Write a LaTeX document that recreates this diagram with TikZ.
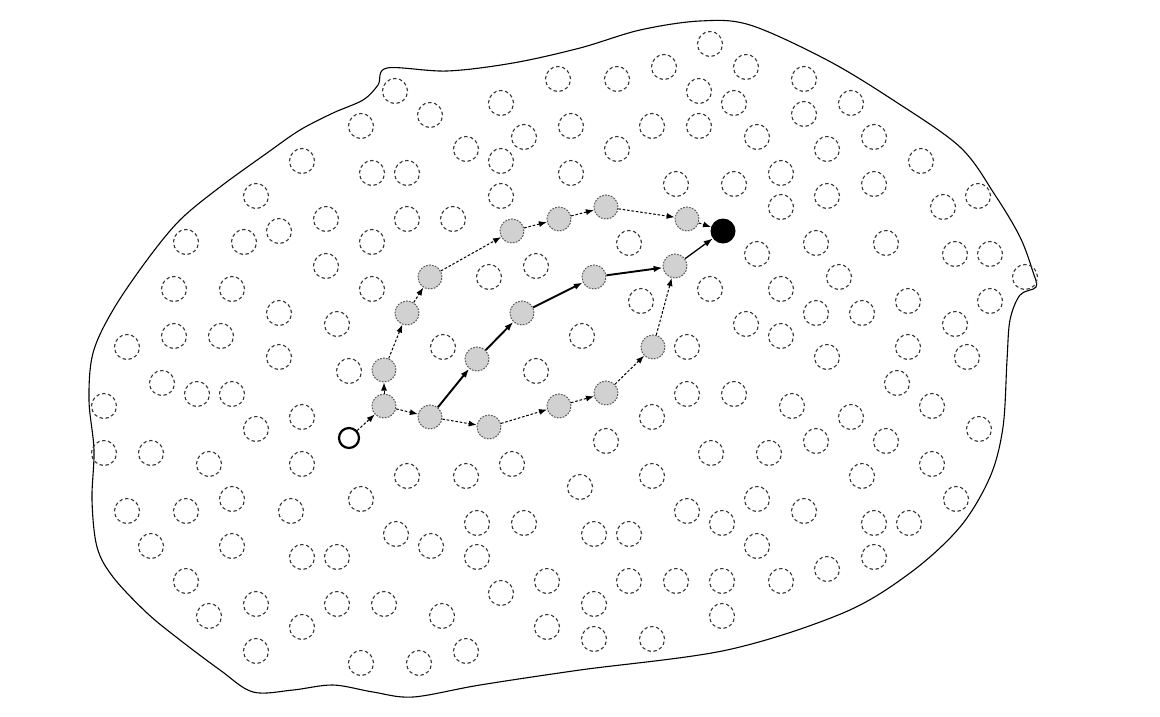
\documentclass[tikz,border=0pt]{standalone}
\usetikzlibrary{arrows.meta}

\begin{document}
\begin{tikzpicture}[x=1pt,y=-1pt,
  site/.style={circle, draw=black!80, line width=1.1pt, dash pattern=on 3.4pt off 2.6pt, minimum size=25pt, inner sep=0pt},
  relay/.style={circle, draw=black!65, fill=black!18, line width=1pt, dash pattern=on 1.7pt off 1.3pt, minimum size=24pt, inner sep=0pt},
  hop/.style={line width=1pt, dash pattern=on 2.6pt off 1.8pt, -{Latex[length=8pt,width=6pt]}},
  route/.style={line width=1.9pt, -{Latex[length=9pt,width=6.5pt]}}]
\useasboundingbox (0,0) rectangle (1160,716);
% region border
\draw [line width=1.1pt] plot [smooth cycle, tension=0.55] coordinates {
  (387,68) (447,71) (513,63) (580,48) (640,30) (700,21) (750,25) (827,60) (893,100)
  (960,147) (995,195) (1020,237) (1033,272) (1036,287) (1020,295) (1010,320) (1007,360)
  (1003,427) (990,477) (960,527) (910,573) (843,613) (727,650) (580,670) (480,685)
  (413,697) (373,692) (333,685) (293,690) (253,692) (220,670) (180,640) (147,613)
  (113,577) (97,547) (92,500) (94,450) (89,400) (93,353) (113,310) (147,260) (180,220)
  (220,187) (267,153) (300,130) (333,113) (363,100) (378,85)};
% idle nodes
\foreach \x/\y [count=\i] in {
  710/44, 664/67, 746/67, 558/79, 617/79, 804/79, 395/91, 699/91, 734/103, 501/103,
  851/103, 804/114, 430/115, 361/126, 571/126, 652/126, 699/126, 524/137, 757/137, 874/137,
  466/149, 617/149, 827/149, 501/161, 302/161, 921/161, 372/173, 407/173, 571/173, 781/173,
  676/184, 734/184, 874/184, 501/196, 256/196, 827/196, 978/196, 781/207, 943/207, 326/219,
  407/219, 453/219, 186/242, 244/242, 279/231, 372/242, 629/243, 757/254, 816/243, 886/243,
  955/254, 990/254, 1025/277, 326/266, 536/266, 489/277, 710/289, 781/289, 839/277, 174/289,
  232/289, 372/289, 279/313, 641/301, 816/313, 862/313, 908/301, 990/301, 127/347, 174/336,
  221/336, 337/324, 443/347, 582/336, 687/347, 746/324, 781/336, 908/347, 955/324, 827/357,
  967/357, 279/357, 349/371, 536/371, 162/383, 197/394, 232/394, 104/406, 302/417, 256/429,
  104/453, 151/453, 209/464, 302/464, 407/476, 466/476, 512/464, 580/487, 361/499, 127/511,
  186/511, 232/499, 291/511, 477/523, 524/523, 396/534, 431/546, 477/557, 151/546, 232/546,
  302/557, 337/557, 186/581, 501/593, 547/581, 209/616, 256/604, 337/604, 384/604, 442/616,
  302/627, 547/627, 256/651, 361/663, 419/663, 466/651, 897/383, 687/394,
  734/394, 792/406, 932/406, 652/417, 851/417, 606/441, 711/453, 769/453, 816/441, 886/441,
  979/429, 932/464, 862/476, 652/476, 687/511, 722/523, 757/499, 804/511, 874/523, 909/523,
  956/499, 594/534, 629/534, 757/546, 874/557, 827/569, 781/581, 722/581, 676/581, 629/581,
  594/604, 722/616, 594/639, 652/639}
  \node[site] (n\i) at (\x,\y) {};
% relays on the routes
\node[relay] (a1) at (384,406) {};
\node[relay] (a2) at (384,370) {};
\node[relay] (a3) at (407,313) {};
\node[relay] (a4) at (430,277) {};
\node[relay] (a5) at (512,231) {};
\node[relay] (a6) at (559,219) {};
\node[relay] (a7) at (606,207) {};
\node[relay] (a8) at (687,219) {};
\node[relay] (b1) at (430,417) {};
\node[relay] (b2) at (477,359) {};
\node[relay] (b3) at (522,313) {};
\node[relay] (b4) at (594,277) {};
\node[relay] (b5) at (675,266) {};
\node[relay] (c1) at (489,427) {};
\node[relay] (c2) at (559,406) {};
\node[relay] (c3) at (606,393) {};
\node[relay] (c4) at (653,347) {};
% source and sink
\node[circle, draw, line width=2.2pt, fill=white, minimum size=20pt, inner sep=0pt] (src) at (349,438) {};
\node[circle, fill=black, minimum size=25pt, inner sep=0pt] (dst) at (723,231) {};
% routes
\draw[hop] (src) -- (a1);
\draw[hop] (a1) -- (a2);
\draw[hop] (a2) -- (a3);
\draw[hop] (a3) -- (a4);
\draw[hop] (a4) -- (a5);
\draw[hop] (a5) -- (a6);
\draw[hop] (a6) -- (a7);
\draw[hop] (a7) -- (a8);
\draw[hop] (a8) -- (dst);
\draw[hop] (a1) -- (b1);
\draw[route] (b1) -- (b2);
\draw[route] (b2) -- (b3);
\draw[route] (b3) -- (b4);
\draw[route] (b4) -- (b5);
\draw[route, line width=1.3pt] (b5) -- (dst);
\draw[hop] (b1) -- (c1);
\draw[hop] (c1) -- (c2);
\draw[hop] (c2) -- (c3);
\draw[hop] (c3) -- (c4);
\draw[hop] (c4) -- (b5);
\end{tikzpicture}
\end{document}
